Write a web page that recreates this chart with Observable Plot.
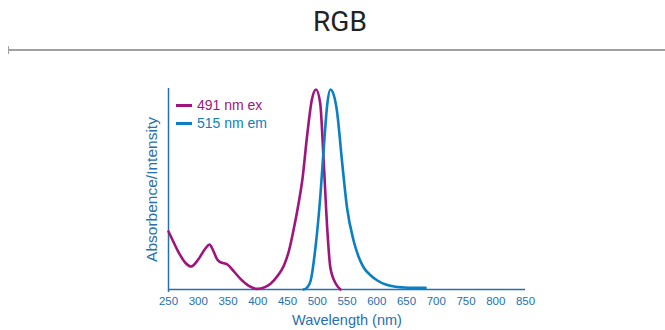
<!DOCTYPE html>
<html>
<head>
<meta charset="utf-8">
<script src="https://cdn.jsdelivr.net/npm/d3@7"></script>
<script src="https://cdn.jsdelivr.net/npm/@observablehq/plot@0.6"></script>
<style>
  html, body { margin: 0; padding: 0; background: #fff; }
  body { width: 665px; height: 330px; position: relative; overflow: hidden; font-family: "Liberation Sans", Arial, sans-serif; }
  #title { position: absolute; left: 0; top: 4px; width: 680px; text-align: center; font-family: Roboto, "Liberation Sans", sans-serif; font-size: 28px; color: #222; line-height: 36px; }
  #rule { position: absolute; left: 8px; top: 49px; width: 657px; height: 0; border-top: 2px solid #a0a0a0; }
  #ruletick { position: absolute; left: 8px; top: 46px; width: 0; height: 8px; border-left: 1.5px solid #a0a0a0; }
  #chart { position: absolute; left: 0; top: 60px; }
  #legend { position: absolute; left: 176px; top: 96px; font-size: 14px; line-height: 18px; }
  #legend .row { display: flex; align-items: center; }
  #legend .sw { display: inline-block; width: 16px; height: 3px; margin-right: 5px; }
</style>
</head>
<body>
<div id="title">RGB</div>
<div id="rule"></div>
<div id="ruletick"></div>
<div id="chart"></div>
<div id="legend"></div>
<script>
const seriesNames = ["491 nm ex", "515 nm em"];
const seriesColors = ["#a0147e", "#0a7fc3"];

const exWavelength = [250, 258, 267, 278, 288, 300, 312, 319, 325, 332, 337, 349, 360, 371, 385, 399, 412, 421, 435, 444, 453, 461, 468, 475, 483, 491, 498, 505, 511, 517, 522, 531, 539];
const exValue      = [29, 24, 18.6, 13.5, 11.5, 15, 20.5, 22.5, 19.5, 15, 13.7, 12.5, 9, 5.3, 1.8, 0.3, 1.2, 2.8, 7.5, 12, 20, 31, 42, 55, 77, 95, 100, 93, 63, 29.5, 11, 3, 0];

const emWavelength = [477, 483, 489, 497, 505, 511, 517, 522, 528, 533, 542, 550, 561, 570, 578, 590, 601, 615, 629, 645, 657, 682];
const emValue      = [0, 1, 4.5, 21, 46, 71, 93, 100, 97, 89.5, 63, 41, 24.5, 16, 11, 7, 4.5, 2.5, 1.5, 1, 0.8, 0.8];

const xTicks = [250, 300, 350, 400, 450, 500, 550, 600, 650, 700, 750, 800, 850];
const xLabel = "Wavelength (nm)";
const yLabel = "Absorbence/Intensity";

const axisColor = "#2470b3";

const rows = [
  ...exWavelength.map((w, i) => ({w, v: exValue[i], s: seriesNames[0]})),
  ...emWavelength.map((w, i) => ({w, v: emValue[i], s: seriesNames[1]}))
];

const plot = Plot.plot({
  width: 665,
  height: 270,
  marginLeft: 168,
  marginRight: 140,
  marginTop: 29,
  marginBottom: 41,
  style: { fontFamily: "'Liberation Sans', Arial, sans-serif", background: "transparent" },
  x: { domain: [250, 850] },
  y: { domain: [0, 100], axis: null },
  color: { domain: seriesNames, range: seriesColors },
  marks: [
    Plot.axisX({ ticks: xTicks, tickSize: 0, tickPadding: 7, label: null, fontSize: 11.5, color: axisColor }),
    Plot.ruleX([250], { y1: -1.5, y2: 100.5, stroke: axisColor, strokeWidth: 1.5 }),
    Plot.ruleY([0], { stroke: axisColor, strokeWidth: 1.5 }),
    Plot.line(rows, { x: "w", y: "v", z: "s", stroke: "s", strokeWidth: 2.6, curve: "monotone-x" }),
    Plot.text([xLabel], { frameAnchor: "bottom", dy: 31, lineAnchor: "middle", fontSize: 14.5, fill: axisColor }),
    Plot.text([yLabel], { frameAnchor: "left", dx: -16, rotate: -90, textAnchor: "middle", lineAnchor: "middle", fontSize: 15.5, fill: axisColor })
  ]
});
document.getElementById("chart").appendChild(plot);

const legend = document.getElementById("legend");
seriesNames.forEach((n, i) => {
  const row = document.createElement("div");
  row.className = "row";
  const sw = document.createElement("span");
  sw.className = "sw";
  sw.style.background = seriesColors[i];
  const t = document.createElement("span");
  t.textContent = n;
  t.style.color = seriesColors[i];
  row.appendChild(sw);
  row.appendChild(t);
  legend.appendChild(row);
});
</script>
</body>
</html>
